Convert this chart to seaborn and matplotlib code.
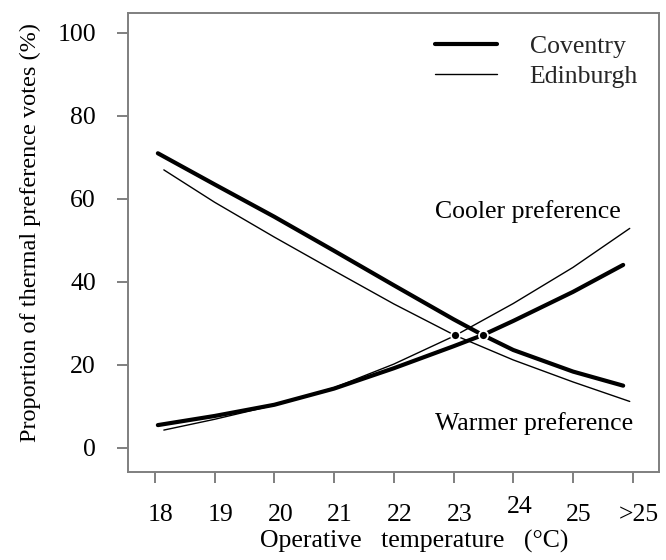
import numpy as np
import pandas as pd
import matplotlib
matplotlib.use("Agg")
import matplotlib.pyplot as plt
import matplotlib.transforms as mtransforms
import seaborn as sns

# ---- data ----
cov_x = [18.05, 19, 20, 21, 22, 23, 23.49, 24, 25, 25.84]
cov_cooler = [5.5, 7.7, 10.4, 14.3, 19.2, 24.5, 27.2, 30.6, 37.6, 44.1]
cov_warmer = [71.0, 63.5, 55.7, 47.5, 39.2, 31.0, 27.2, 23.6, 18.4, 15.0]

edi_x = [18.15, 19, 20, 21, 22, 23, 23.03, 24, 25, 25.95]
edi_cooler = [4.3, 6.9, 10.3, 14.5, 20.2, 26.9, 27.1, 34.8, 43.5, 52.9]
edi_warmer = [67.0, 59.2, 50.8, 42.7, 34.7, 27.3, 27.1, 21.2, 15.9, 11.2]

dot_x = [23.03, 23.49]
dot_y = [27.1, 27.2]

tick_pos = [18, 19, 20, 21, 22, 23, 24, 25, 26]
tick_labels = ["18", "19", "20", "21", "22", "23", "24", "25", ">25"]
ytick_pos = [0, 20, 40, 60, 80, 100]

rows = []
for x, c, w in zip(cov_x, cov_cooler, cov_warmer):
    rows.append(dict(x=x, y=c, city="Coventry", pref="Cooler"))
    rows.append(dict(x=x, y=w, city="Coventry", pref="Warmer"))
for x, c, w in zip(edi_x, edi_cooler, edi_warmer):
    rows.append(dict(x=x, y=c, city="Edinburgh", pref="Cooler"))
    rows.append(dict(x=x, y=w, city="Edinburgh", pref="Warmer"))
df = pd.DataFrame(rows)

sns.set_theme(style="white")
plt.rcParams["font.family"] = ["Liberation Serif", "DejaVu Serif"]

FS = 18.5
fig = plt.figure(figsize=(6.66, 5.6), dpi=100)
ax = fig.add_axes([128/666, 1-472/560, (659-128)/666, (472-13)/560])

lw = {"Coventry": 3.0, "Edinburgh": 1.0}
for (city, pref), sub in df.groupby(["city", "pref"]):
    sub = sub.sort_values("x")
    sns.lineplot(data=sub, x="x", y="y", ax=ax, color="black",
                 linewidth=lw[city], sort=False, estimator=None,
                 label=city if pref == "Cooler" else None)

sns.scatterplot(x=dot_x, y=dot_y, ax=ax, color="black", s=42,
                edgecolor="white", linewidth=1.3, zorder=5)

ax.set_xlim(17.55, 26.44)
ax.set_ylim(-5.8, 104.8)
ax.set_xticks(tick_pos)
ax.set_xticklabels(tick_labels)
ax.set_yticks(ytick_pos)

spine_col = "#7f7f7f"
for s in ax.spines.values():
    s.set_visible(True)
    s.set_color(spine_col)
    s.set_linewidth(1.4)

ax.tick_params(axis="both", direction="out", length=8, width=1.4,
               color=spine_col, labelsize=FS, labelcolor="black",
               bottom=True, left=True)
ax.tick_params(axis="x", pad=15)
ax.tick_params(axis="y", pad=15)

# shift x tick labels slightly right, raise "24"
for i, lab in enumerate(ax.get_xticklabels()):
    dy = 8/100 if tick_labels[i] == "24" else 0
    offset = mtransforms.ScaledTranslation(6/100, dy, fig.dpi_scale_trans)
    lab.set_transform(lab.get_transform() + offset)

ax.set_xlabel("Operative   temperature   (°C)", fontsize=FS, color="black")
ax.xaxis.set_label_coords((414 - 128) / 531, -(541 - 472) / 459)
ax.xaxis.label.set_va("center")
ax.set_ylabel("Proportion of thermal preference votes (%)", fontsize=17.5,
              color="black")
ax.yaxis.set_label_coords(-(128 - 30) / 531, 1 - (232 - 13) / 459)
ax.yaxis.label.set_va("center")

ax.text(22.69, 56.9, "Cooler preference", fontsize=FS,
        ha="left", va="center", color="black")
ax.text(22.69, 6.0, "Warmer preference", fontsize=FS,
        ha="left", va="center", color="black")

leg = ax.legend(loc="upper left", bbox_to_anchor=((435 - 128) / 531, 1 - (35 - 13) / 459),
                frameon=False, fontsize=FS, handlelength=2.4, handletextpad=1.28,
                labelspacing=0.29, borderaxespad=0, borderpad=0)

fig.savefig("out.png", dpi=100)
